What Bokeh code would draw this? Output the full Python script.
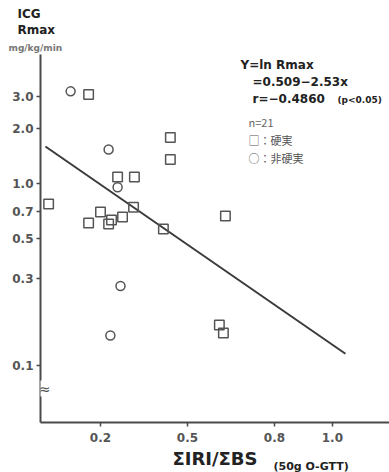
from bokeh.plotting import figure
from bokeh.models import FixedTicker, Label
from bokeh.embed import file_html
from bokeh.resources import INLINE

# ---- data ----
sq_x = [0.159, 0.441, 0.441, 0.259, 0.317, 0.314, 0.021, 0.159, 0.200, 0.238, 0.228, 0.276, 0.417, 0.631, 0.610, 0.624]
sq_y = [3.07, 1.78, 1.35, 1.08, 1.08, 0.739, 0.768, 0.604, 0.694, 0.628, 0.597, 0.652, 0.560, 0.66, 0.167, 0.151]
ci_x = [0.097, 0.228, 0.259, 0.269, 0.234]
ci_y = [3.19, 1.53, 0.95, 0.273, 0.146]
line_x = [0.010, 1.045]
line_y = [1.59, 0.116]
y_ticks = [0.1, 0.3, 0.5, 0.7, 1.0, 2.0, 3.0]
y_tick_labels = ["0.1", "0.3", "0.5", "0.7", "1.0", "2.0", "3.0"]
x_ticks = [0.2, 0.5, 0.8, 1.0]
x_tick_labels = ["0.2", "0.5", "0.8", "1.0"]

W, H = 389, 472
LAT = "DejaVu Sans"
CJK = "Noto Sans CJK JP"
INK = "#222222"
GREY = "#4a4a4a"

p = figure(width=W, height=H, output_backend="svg", toolbar_location=None,
           x_range=(-0.007, 1.197), y_range=(0.0487, 5.08), y_axis_type="log",
           min_border_left=40, min_border_right=0, min_border_top=53, min_border_bottom=50)
p.outline_line_color = None
p.grid.visible = False

for ax in (p.xaxis[0], p.yaxis[0]):
    ax.axis_line_color = GREY
    ax.axis_line_width = 2
    ax.major_tick_line_color = GREY
    ax.major_tick_line_width = 1.5
    ax.minor_tick_line_color = None
    ax.major_tick_in = 0
    ax.major_tick_out = 4
    ax.major_label_text_font = LAT
    ax.major_label_text_font_style = "bold"
    ax.major_label_text_color = "#555555"

p.yaxis.ticker = FixedTicker(ticks=y_ticks)
p.yaxis.major_label_overrides = {t: l for t, l in zip(y_ticks, y_tick_labels)}
p.yaxis.major_label_text_font_size = "12px"
p.yaxis.major_label_standoff = 3
p.xaxis.ticker = FixedTicker(ticks=x_ticks)
p.xaxis.major_label_overrides = {t: l for t, l in zip(x_ticks, x_tick_labels)}
p.xaxis.major_label_text_font_size = "12px"
p.xaxis.major_label_standoff = 6
p.xaxis.axis_label = "ΣIRI/ΣBS"
p.xaxis.axis_label_text_font = LAT
p.xaxis.axis_label_text_font_style = "bold"
p.xaxis.axis_label_text_font_size = "18px"
p.xaxis.axis_label_text_color = INK
p.xaxis.axis_label_standoff = 3

p.line(line_x, line_y, line_color="#3a3a3a", line_width=2)
p.scatter(sq_x, sq_y, marker="square", size=9.5, fill_color=None, line_color="#555555", line_width=1.5)
p.scatter(ci_x, ci_y, marker="circle", size=9, fill_color=None, line_color="#555555", line_width=1.5)

def lab(px, py, txt, size, color=INK, bold=True, font=LAT, place="center", bg=None,
        baseline="middle", align="left"):
    p.add_layout(Label(x=px, y=py, x_units="canvas", y_units="canvas", text=txt,
                       text_font=font, text_font_size=size, text_color=color,
                       text_font_style="bold" if bold else "normal",
                       text_baseline=baseline, text_align=align, text_line_height=1.2,
                       background_fill_color=bg), place)

# outside-frame texts live in the top panel (not clipped to the frame)
lab(17, 6, "ICG\nRmax", "12px", place="above", baseline="top")
lab(8, 47, "mg/kg/min", "9px", color="#777777", place="above")
lab(273, 466, "(50g O-GTT)", "11px", place="above")

# axis break mark over the y axis
lab(44, 388, "≈", "14px", color=GREY, bold=False, bg="white", align="center")

lab(240, 64, "Y=ln Rmax", "12px")
lab(252, 81, "=0.509−2.53x", "12px")
lab(252, 98, "r=−0.4860", "12px")
lab(337, 99, "(p<0.05)", "9px")
lab(248, 121, "n=21", "11px", color="#666666", bold=False, font=CJK)
lab(248, 139, "□：硬実", "11px", color="#555555", bold=False, font=CJK)
lab(248, 157, "○：非硬実", "11px", color="#555555", bold=False, font=CJK)

open("out.html", "w").write(file_html(p, INLINE))
